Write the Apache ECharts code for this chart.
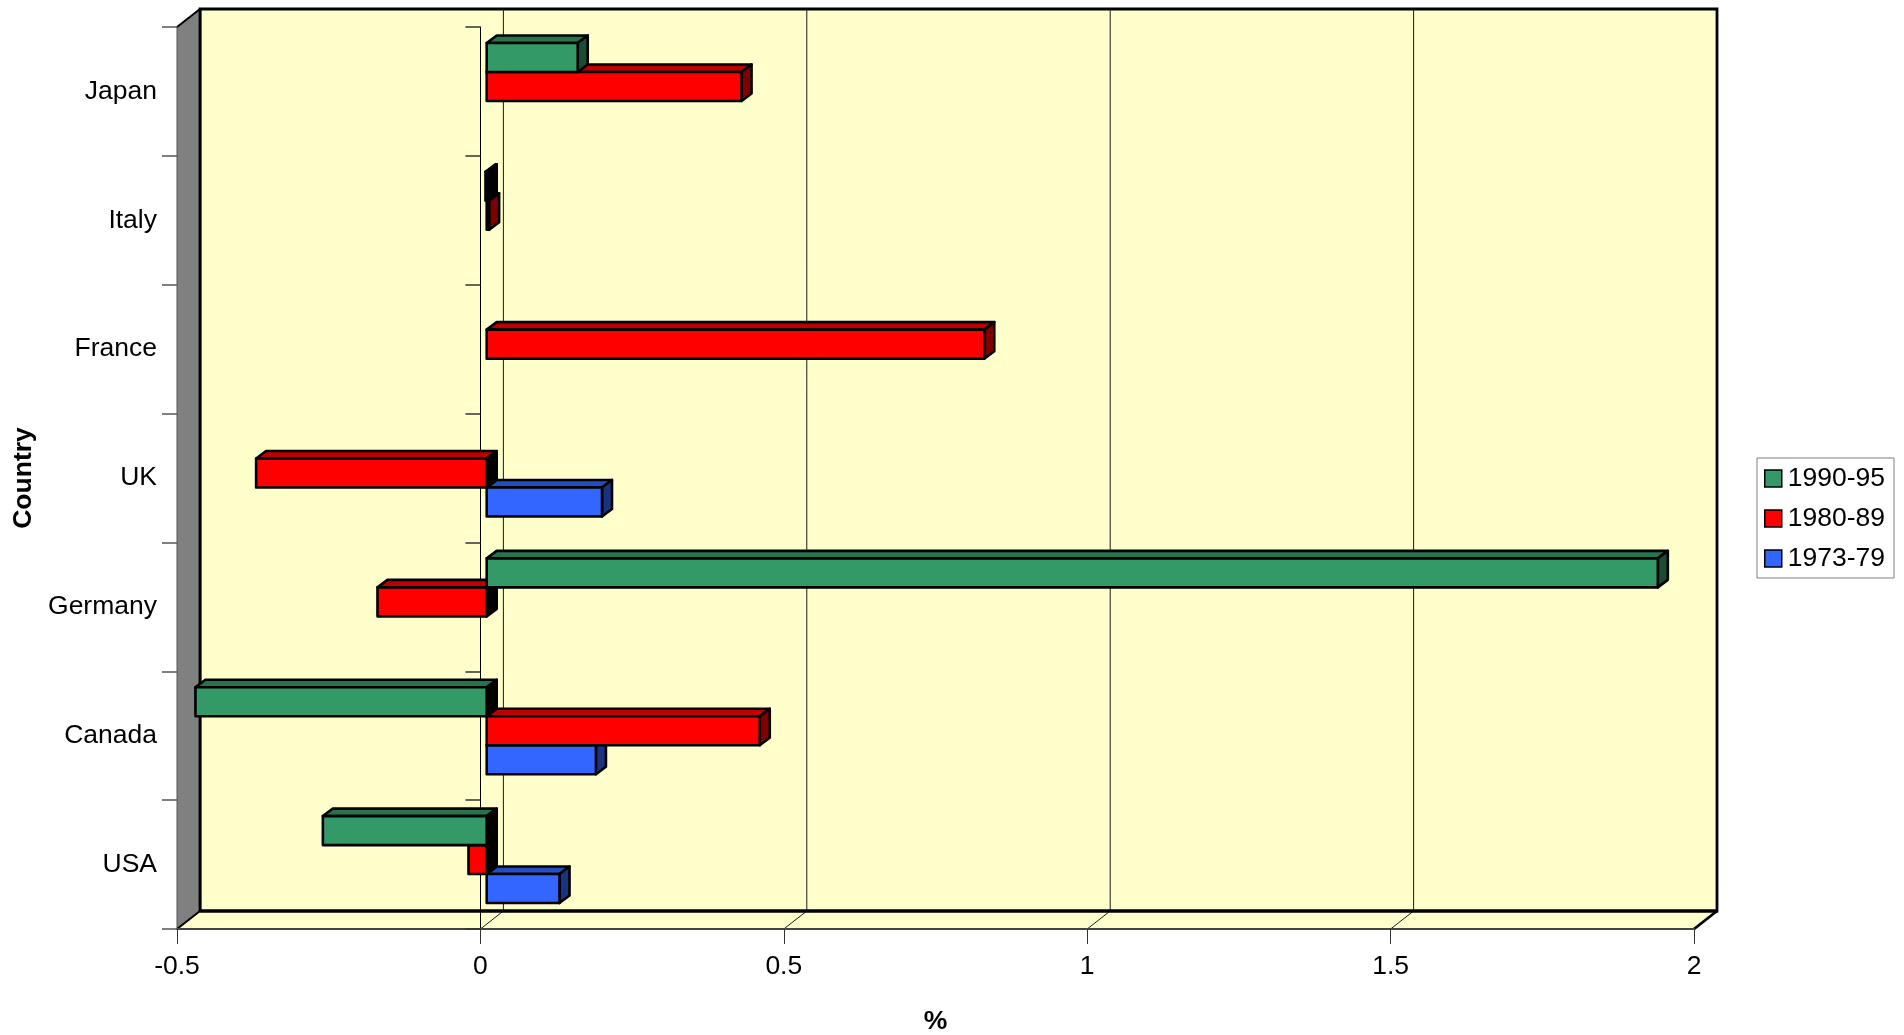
<!DOCTYPE html>
<html><head><meta charset="utf-8">
<script src="https://cdn.jsdelivr.net/npm/echarts@6/dist/echarts.min.js"></script>
<style>html,body{margin:0;padding:0;background:#fff}#c{width:1904px;height:1035px}</style>
</head><body><div id="c"></div>
<script>
// ---- data ----
const countries = ['USA', 'Canada', 'Germany', 'UK', 'France', 'Italy', 'Japan'];
const p1990_95 = [-0.27, -0.48, 1.93, null, null, -0.002, 0.15];
const p1980_89 = [-0.03, 0.45, -0.18, -0.38, 0.82, 0.004, 0.42];
const p1973_79 = [0.12, 0.18, null, 0.19, null, null, null];
const xTicks = [-0.5, 0, 0.5, 1, 1.5, 2];
const seriesNames = ['1990-95', '1980-89', '1973-79'];

// ---- style ----
const FONT = 'Liberation Sans, Arial, sans-serif';
const FS = 26.5;
const DX = 23, DY = -18;          // wall depth
const BX = 6.3, BY = -5;          // bar front plane offset
const BDX = 10, BDY = -7.5;       // bar depth
const BAR_FRAC = 0.225;
const colors = {
  '1990-95': {front: '#339966', top: '#26734D', side: '#1A4D33'},
  '1980-89': {front: '#FF0000', top: '#C00000', side: '#800000'},
  '1973-79': {front: '#3366FF', top: '#264DBF', side: '#1A3380'}
};

function barSeries(name, values, slot) {
  const c = colors[name];
  return {
    name: name, type: 'custom', xAxisIndex: 0, yAxisIndex: 0, z: 2,
    itemStyle: {color: c.front, borderColor: '#000', borderWidth: 1.5},
    data: values.map((v, i) => [v, i]),
    encode: {x: 0, y: 1},
    renderItem: function (params, api) {
      const v = api.value(0);
      if (v == null || isNaN(v)) return;
      const cat = api.value(1);
      const p0 = api.coord([0, cat]);
      const p1 = api.coord([v, cat]);
      const band = api.size([0, 1])[1];
      const bh = band * BAR_FRAC;
      const yT = p0[1] - 1.5 * bh + slot * bh + BY;
      const yB = yT + bh;
      const xa = p0[0] + BX, xb = p1[0] + BX;
      const xl = Math.min(xa, xb), xr = Math.max(xa, xb);
      const st = {stroke: '#000', lineWidth: 2.6, lineJoin: 'round'};
      return {
        type: 'group',
        children: [
          {type: 'polygon', shape: {points: [[xl, yT], [xl + BDX, yT + BDY], [xr + BDX, yT + BDY], [xr, yT]]},
            style: Object.assign({fill: c.top}, st)},
          {type: 'polygon', shape: {points: [[xr, yT], [xr + BDX, yT + BDY], [xr + BDX, yB + BDY], [xr, yB]]},
            style: Object.assign({fill: v >= 0 ? c.side : '#000'}, st)},
          {type: 'rect', shape: {x: xl, y: yT, width: xr - xl, height: yB - yT},
            style: Object.assign({fill: c.front}, st)}
        ]
      };
    }
  };
}

const wallSeries = {
  type: 'custom', name: 'walls', z: -1, silent: true,
  xAxisIndex: 0, yAxisIndex: 0,
  data: [[0, 0]], encode: {x: 0, y: 1},
  renderItem: function (params, api) {
    const cs = params.coordSys;
    const fl = cs.x, fr = cs.x + cs.width, ft = cs.y, fb = cs.y + cs.height;
    const bl = fl + DX, br = fr + DX, bt = ft + DY, bb = fb + DY;
    const ch = [];
    ch.push({type: 'polygon', shape: {points: [[fl, fb], [bl, bb], [br, bb], [fr, fb]]},
      style: {fill: '#FFFFCC', stroke: null}});
    ch.push({type: 'rect', shape: {x: bl, y: bt, width: br - bl, height: bb - bt},
      style: {fill: '#FFFFCC', stroke: '#000', lineWidth: 2.8}});
    xTicks.forEach(function (t, i) {
      const x = api.coord([t, 0])[0];
      if (i > 0 && i < xTicks.length - 1) {
        ch.push({type: 'line', shape: {x1: x + DX, y1: bt, x2: x + DX, y2: bb},
          style: {stroke: '#1a1a1a', lineWidth: 1}});
        ch.push({type: 'line', shape: {x1: x, y1: fb, x2: x + DX, y2: bb},
          style: {stroke: '#1a1a1a', lineWidth: 1}});
      }
    });
    ch.push({type: 'line', shape: {x1: fr, y1: fb, x2: br, y2: bb}, style: {stroke: '#000', lineWidth: 2.8}});
    ch.push({type: 'line', shape: {x1: bl, y1: bb, x2: br, y2: bb}, style: {stroke: '#000', lineWidth: 2.8}});
    ch.push({type: 'polygon', shape: {points: [[fl, ft], [bl, bt], [bl, bb], [fl, fb]]},
      style: {fill: '#808080', stroke: '#555', lineWidth: 1}});
    ch.push({type: 'line', shape: {x1: fl, y1: ft, x2: bl, y2: bt}, style: {stroke: '#000', lineWidth: 2}});
    ch.push({type: 'line', shape: {x1: bl, y1: bt, x2: bl, y2: bb}, style: {stroke: '#000', lineWidth: 2.8}});
    ch.push({type: 'line', shape: {x1: fl, y1: fb, x2: bl, y2: bb}, style: {stroke: '#000', lineWidth: 2}});
    return {type: 'group', children: ch};
  }
};

const chart = echarts.init(document.getElementById('c'), null, {renderer: 'canvas'});
chart.setOption({
  animation: false,
  backgroundColor: '#fff',
  textStyle: {fontFamily: FONT},
  grid: {left: 177, right: 210, top: 27, bottom: 106, containLabel: false, outerBoundsMode: 'none'},
  xAxis: {
    type: 'value', min: xTicks[0], max: xTicks[xTicks.length - 1], interval: 0.5,
    axisLine: {show: true, onZero: false, lineStyle: {color: '#444', width: 2}},
    axisTick: {show: true, length: 15, lineStyle: {color: '#333', width: 1}},
    axisLabel: {fontSize: FS, color: '#000', margin: 24, fontFamily: FONT},
    splitLine: {show: false},
    name: '%', nameLocation: 'middle', nameGap: 79,
    nameTextStyle: {fontSize: FS, fontWeight: 'bold', color: '#000', fontFamily: FONT}
  },
  yAxis: [{
    type: 'category', data: countries, position: 'left',
    axisLine: {show: false, onZero: false},
    axisTick: {show: true, length: 15, lineStyle: {color: '#555', width: 1.5}},
    axisLabel: {fontSize: FS, color: '#000', margin: 20, fontFamily: FONT, padding: [6, 0, 0, 0]},
    name: 'Country', nameLocation: 'middle', nameGap: 133, nameRotate: 90,
    nameTextStyle: {fontSize: FS, fontWeight: 'bold', color: '#000', fontFamily: FONT}
  }, {
    type: 'category', data: countries, position: 'left',
    axisLine: {show: true, onZero: true, lineStyle: {color: '#000', width: 1}},
    axisTick: {show: true, length: 15, lineStyle: {color: '#333', width: 1.5}},
    axisLabel: {show: false}
  }],
  legend: {
    data: seriesNames, orient: 'vertical', left: 1757, top: 458,
    icon: 'rect', itemWidth: 17, itemHeight: 17, itemGap: 13,
    padding: [7, 9, 6, 7], borderColor: '#808080', borderWidth: 1, backgroundColor: '#fff',
    itemStyle: {borderColor: '#000', borderWidth: 1.5},
    textStyle: {fontSize: FS, color: '#000', fontFamily: FONT, lineHeight: 27, padding: [0, 0, 0, 1]}
  },
  series: [
    wallSeries,
    barSeries('1973-79', p1973_79, 2),
    barSeries('1980-89', p1980_89, 1),
    barSeries('1990-95', p1990_95, 0)
  ]
});
</script></body></html>
